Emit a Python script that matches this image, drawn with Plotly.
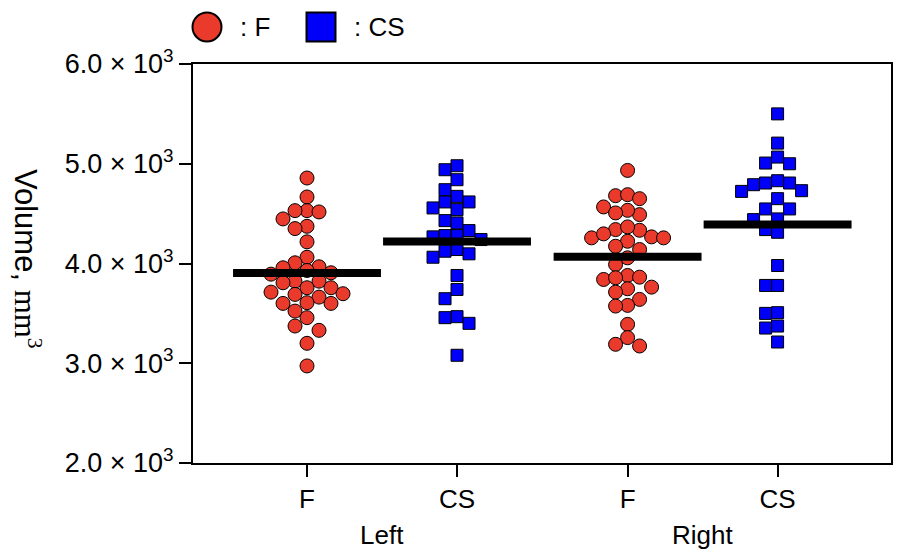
import numpy as np
import plotly.graph_objects as go

# values (mm^3)
left_f = [4857, 4667, 4530, 4530, 4517, 4447, 4373, 4350, 4217, 4063, 4007, 3967,
          3957, 3930, 3907, 3893, 3823, 3823, 3807, 3757, 3757, 3713, 3690, 3697,
          3663, 3600, 3600, 3607, 3523, 3457, 3373, 3330, 3200, 2973]
left_cs = [4980, 4940, 4840, 4740, 4673, 4617, 4617, 4557, 4540, 4430, 4407, 4330,
           4267, 4280, 4280, 4240, 4140, 4123, 4097, 4063, 3880, 3740, 3647, 3467,
           3457, 3400, 3080]
right_f = [4933, 4680, 4690, 4650, 4490, 4533, 4567, 4507, 4267, 4257, 4333, 4340,
           4297, 4367, 4223, 4257, 4140, 4173, 4057, 3990, 3840, 3880, 3857, 3863,
           3747, 3713, 3763, 3640, 3580, 3573, 3390, 3257, 3173, 3190]
right_cs = [5500, 5207, 5007, 5067, 5000, 4723, 4790, 4807, 4830, 4807, 4730, 4650,
            4547, 4547, 4440, 4447, 4313, 4340, 3980, 3780, 3780, 3507, 3500, 3373,
            3353, 3213]
means = [3905, 4220, 4067, 4392]

groups = ["F", "CS", "F", "CS"]
sides = ["Left", "Right"]
y_ticks = [2000, 3000, 4000, 5000, 6000]

# layout geometry (page has an 8px body margin)
W, H = 902, 558
OFF = 8
ML, MT = 193 - OFF, 64 - OFF
MR, MB = W - (891 - OFF), H - (463 - OFF)
pw, ph = W - ML - MR, H - MT - MB
pos = [0, 1, 2.137, 3.137]
xr = [-0.76, 3.893]
yr = [2000, 6000]
xs = pw / (xr[1] - xr[0])
ys = ph / (yr[1] - yr[0])

RED = "#EA3A2B"
BLUE = "#0000FA"
FONT = "Liberation Sans, Arial, sans-serif"


def px(x):
    return (x - OFF - ML) / pw


def py(y):
    return (MT + ph - (y - OFF)) / ph


def swarm(vals, step_px, gap_px):
    # greedy column placement, top value first
    vals = np.asarray(vals, dtype=float)
    cols = np.zeros(len(vals))
    placed = []
    for i in np.argsort(-vals):
        y = vals[i] * ys
        for c in [0, -1, 1, -2, 2, -3, 3, -4, 4, -5, 5]:
            if all(not (pc == c and abs(yy - y) < gap_px) for pc, yy in placed):
                break
        placed.append((c, y))
        cols[i] = c
    return cols * step_px / xs


fig = go.Figure()

data = [left_f, left_cs, right_f, right_cs]
for k, vals in enumerate(data):
    is_f = groups[k] == "F"
    off = swarm(vals, 12, 13 if is_f else 12)
    fig.add_trace(go.Scatter(
        x=pos[k] + off, y=vals, mode="markers", showlegend=False,
        marker=dict(symbol="circle" if is_f else "square", size=14 if is_f else 12,
                    color=RED if is_f else BLUE,
                    line=dict(color="black", width=1)),
    ))

for k, m in enumerate(means):
    fig.add_trace(go.Scatter(
        x=[pos[k] - 0.493, pos[k] + 0.493], y=[m, m], mode="lines",
        line=dict(color="black", width=8), showlegend=False,
    ))

fig.update_xaxes(
    range=xr, tickvals=pos, ticktext=groups, showgrid=False, zeroline=False,
    showline=True, linecolor="black", linewidth=2, mirror=True,
    ticks="outside", ticklen=12, tickwidth=2, tickcolor="black",
    tickfont=dict(family=FONT, size=26, color="black"),
)
fig.update_yaxes(
    range=yr, tickvals=y_ticks,
    ticktext=[f"{v / 1000:.1f} \u00d7 10<sup>3</sup>" for v in y_ticks],
    showgrid=False, zeroline=False,
    showline=True, linecolor="black", linewidth=2, mirror=True,
    ticks="outside", ticklen=12, tickwidth=2, tickcolor="black",
    tickfont=dict(family=FONT, size=27, color="black"),
)

# group labels under the ticks
for j, s in enumerate(sides):
    fig.add_annotation(
        x=(pos[2 * j] + pos[2 * j + 1]) / 2, xref="x",
        y=py(535), yref="paper",
        text=s, showarrow=False, font=dict(family=FONT, size=26, color="black"),
        xanchor="center", yanchor="middle",
    )

# y title, reads top to bottom
fig.add_annotation(
    x=px(28), xref="paper", y=py(259), yref="paper",
    text="Volume, <span style='font-family:Liberation Serif, Times New Roman, serif'>mm<sup>3</sup></span>",
    textangle=90, showarrow=False, xanchor="center", yanchor="middle",
    font=dict(family=FONT, size=31, color="black"),
)

# legend drawn by hand (big symbols)
leg = [("circle", RED, 207, ": F", 238), ("rect", BLUE, 321, ": CS", 352)]
for shape, col, cx, label, tx in leg:
    fig.add_shape(
        type=shape, xref="paper", yref="paper",
        xsizemode="pixel", ysizemode="pixel",
        xanchor=px(cx), yanchor=py(27),
        x0=-14.5, x1=14.5, y0=-14.5, y1=14.5,
        fillcolor=col, line=dict(color="black", width=2),
    )
    fig.add_annotation(
        x=px(tx), xref="paper", y=py(27), yref="paper",
        text=label, showarrow=False, xanchor="left", yanchor="middle",
        font=dict(family=FONT, size=26, color="black"),
    )

fig.update_layout(
    width=W, height=H,
    margin=dict(l=ML, r=MR, t=MT, b=MB),
    plot_bgcolor="white", paper_bgcolor="white",
    font=dict(family=FONT, color="black"),
)

fig.write_html("out.html")
